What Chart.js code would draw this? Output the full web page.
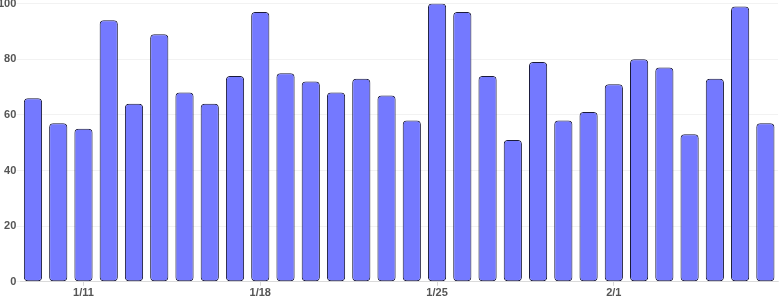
<!DOCTYPE html>
<html>
<head>
<meta charset="utf-8">
<script src="https://cdn.jsdelivr.net/npm/chart.js@4.4.1/dist/chart.umd.min.js"></script>
<style>
	html, body { margin: 0; padding: 0; background: #fff; }
	#wrap { width: 784px; height: 300px; position: relative; overflow: hidden; }
	#inner { position: absolute; left: 0; top: -3px; width: 784px; height: 303px; }
</style>
</head>
<body>
<div id="wrap"><div id="inner"><canvas id="barChart"></canvas></div></div>
<script>
// days 1/9 .. 2/7
var dayLabels = ['1/9','1/10','1/11','1/12','1/13','1/14','1/15','1/16','1/17','1/18',
	'1/19','1/20','1/21','1/22','1/23','1/24','1/25','1/26','1/27','1/28',
	'1/29','1/30','1/31','2/1','2/2','2/3','2/4','2/5','2/6','2/7'];
var values = [66, 57, 55, 94, 64, 89, 68, 64, 74, 97,
	75, 72, 68, 73, 67, 58, 100, 97, 74, 51,
	79, 58, 61, 71, 80, 77, 53, 73, 99, 57];
var shownTicks = ['1/11', '1/18', '1/25', '2/1'];
var yTicks = [0, 20, 40, 60, 80, 100];

var ctx = document.getElementById('barChart');
var chart = new Chart(ctx.getContext('2d'), {
	type: 'bar',
	data: {
		labels: dayLabels,
		datasets: [{
			data: values,
			backgroundColor: 'rgb(116, 121, 255)',
			borderColor: '#1a1a3a',
			borderWidth: 1,
			borderRadius: 4,
			borderSkipped: false,
			barPercentage: 0.9,
			categoryPercentage: 0.8
		}]
	},
	options: {
		responsive: true,
		maintainAspectRatio: false,
		animation: false,
		layout: { padding: { top: 0, right: 6, left: -2, bottom: -1 } },
		plugins: {
			legend: { display: false },
			tooltip: { enabled: false }
		},
		scales: {
			y: {
				min: 0,
				max: 100,
				afterBuildTicks: function(axis) {
					axis.ticks = yTicks.map(function(v) { return { value: v }; });
				},
				border: { display: false },
				grid: {
					color: 'rgba(0, 0, 0, 0.05)',
					tickLength: 4
				},
				ticks: {
					padding: 0,
					color: '#555',
					font: { family: 'Liberation Sans', size: 11, weight: 'bold' }
				}
			},
			x: {
				border: { display: true, color: 'rgba(0, 0, 0, 0.1)' },
				grid: {
					offset: false,
					drawOnChartArea: false,
					tickLength: 4,
					color: 'rgba(0, 0, 0, 0.15)'
				},
				ticks: {
					autoSkip: false,
					maxRotation: 0,
					padding: 1,
					color: '#555',
					font: { family: 'Liberation Sans', size: 11, weight: 'bold' },
					callback: function(value) {
						var lbl = this.getLabelForValue(value);
						return shownTicks.indexOf(lbl) >= 0 ? lbl : null;
					}
				}
			}
		}
	}
});
</script>
</body>
</html>
